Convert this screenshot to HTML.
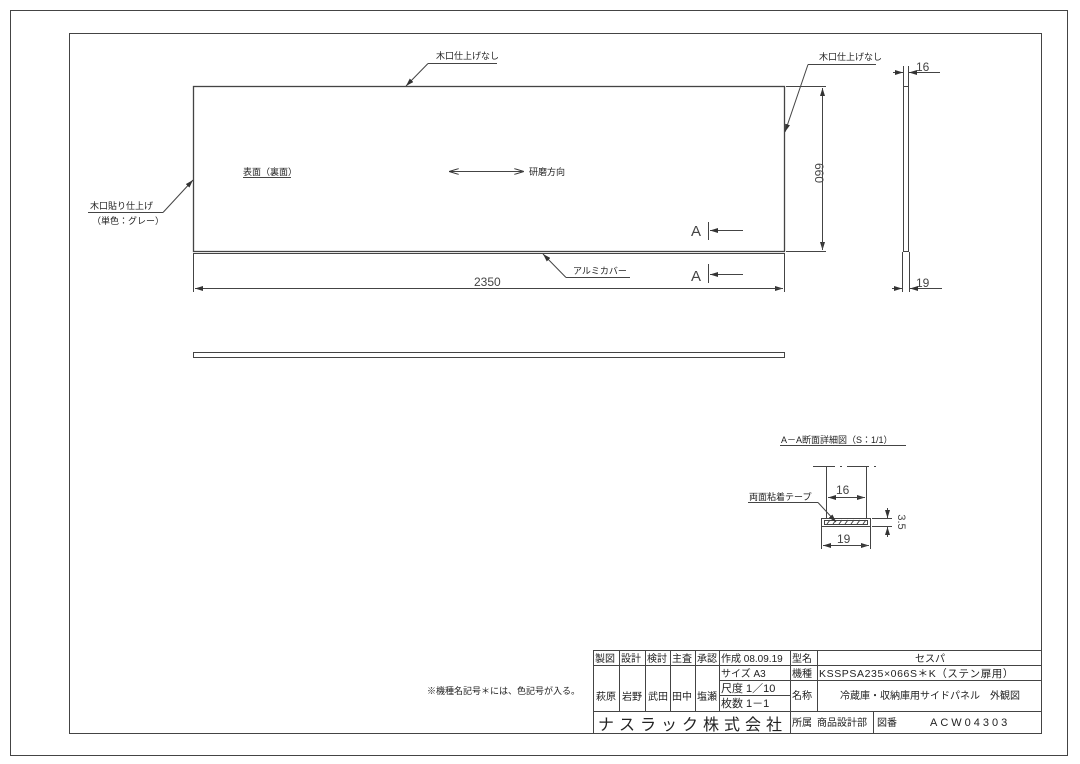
<!DOCTYPE html>
<html><head><meta charset="utf-8"><style>
html,body{margin:0;padding:0;background:#fff;}
svg{display:block;font-family:"Liberation Sans","Noto Sans CJK JP",sans-serif;}
</style></head><body>
<svg width="1080" height="764" viewBox="0 0 1080 764" xmlns="http://www.w3.org/2000/svg">
<defs>
<marker id="ar" markerWidth="10" markerHeight="6" refX="10" refY="3" orient="auto" markerUnits="userSpaceOnUse">
<path d="M0,0 L10,3 L0,6" fill="none" stroke="#333" stroke-width="1"/></marker>
<marker id="af" markerWidth="8" markerHeight="5" refX="8" refY="2.5" orient="auto" markerUnits="userSpaceOnUse">
<path d="M0,0 L8,2.5 L0,5 z" fill="#333"/></marker>
</defs>
<g fill="none" stroke="#444" stroke-width="1">
<rect x="10.5" y="10.5" width="1057" height="745"/>
<rect x="69.5" y="33.5" width="972" height="700"/>
<rect x="193.5" y="86.5" width="591" height="165" stroke-width="1.3"/>
<line x1="193" y1="253.5" x2="785" y2="253.5"/>
<line x1="193.5" y1="254" x2="193.5" y2="292"/>
<line x1="784.5" y1="254" x2="784.5" y2="292"/>
<line x1="195" y1="288.5" x2="783" y2="288.5" marker-end="url(#af)"/>
<line x1="783" y1="288.5" x2="195" y2="288.5" marker-end="url(#af)"/>
<polyline points="428,63.5 497,63.5"/>
<line x1="428" y1="63.5" x2="406" y2="86" marker-end="url(#af)"/>
<line x1="808" y1="64.5" x2="876" y2="64.5"/>
<line x1="808" y1="64.5" x2="785" y2="132" marker-end="url(#af)"/>
<line x1="88" y1="212.5" x2="163" y2="212.5"/>
<line x1="163" y1="212.5" x2="193" y2="180" marker-end="url(#af)"/>
<line x1="243" y1="177.5" x2="291" y2="177.5"/>
<line x1="449" y1="171.5" x2="524" y2="171.5" marker-end="url(#ar)"/>
<line x1="524" y1="171.5" x2="449" y2="171.5" marker-end="url(#ar)"/>
<line x1="786" y1="86.5" x2="826" y2="86.5"/>
<line x1="786" y1="251.5" x2="826" y2="251.5"/>
<line x1="822.5" y1="88" x2="822.5" y2="250" marker-end="url(#af)"/>
<line x1="822.5" y1="250" x2="822.5" y2="88" marker-end="url(#af)"/>
<line x1="708.5" y1="222" x2="708.5" y2="240"/>
<line x1="743" y1="230.5" x2="710" y2="230.5" marker-end="url(#af)"/>
<line x1="708.5" y1="264" x2="708.5" y2="283"/>
<line x1="743" y1="274.5" x2="710" y2="274.5" marker-end="url(#af)"/>
<line x1="566" y1="277.5" x2="630" y2="277.5"/>
<line x1="566" y1="277.5" x2="543" y2="254" marker-end="url(#af)"/>
<rect x="903.5" y="86.5" width="5" height="165"/>
<line x1="903.5" y1="66" x2="903.5" y2="86"/>
<line x1="908.5" y1="66" x2="908.5" y2="86"/>
<line x1="893" y1="72.5" x2="903" y2="72.5" marker-end="url(#af)"/>
<line x1="940" y1="72.5" x2="909" y2="72.5" marker-end="url(#af)"/>
<line x1="902.5" y1="252" x2="902.5" y2="292"/>
<line x1="909.5" y1="252" x2="909.5" y2="292"/>
<line x1="892" y1="288.5" x2="902" y2="288.5" marker-end="url(#af)"/>
<line x1="942" y1="288.5" x2="910" y2="288.5" marker-end="url(#af)"/>
<rect x="193.5" y="352.5" width="591" height="5"/>
<line x1="780" y1="445.5" x2="906" y2="445.5"/>
<line x1="813" y1="466.5" x2="880" y2="466.5" stroke-dasharray="22,5,2,5"/>
<line x1="826.5" y1="466" x2="826.5" y2="518"/>
<line x1="866.5" y1="466" x2="866.5" y2="518"/>
<line x1="828" y1="497.5" x2="865" y2="497.5" marker-end="url(#af)"/>
<line x1="865" y1="497.5" x2="828" y2="497.5" marker-end="url(#af)"/>
<rect x="821.5" y="518.5" width="49" height="8"/>
<rect x="824.5" y="520.5" width="43" height="4"/>
<path d="M827,524 l3,-4 M833,524 l3,-4 M839,524 l3,-4 M845,524 l3,-4 M851,524 l3,-4 M857,524 l3,-4 M863,524 l3,-4"/>
<line x1="821.5" y1="527" x2="821.5" y2="549"/>
<line x1="870.5" y1="527" x2="870.5" y2="549"/>
<line x1="823" y1="545.5" x2="869" y2="545.5" marker-end="url(#af)"/>
<line x1="869" y1="545.5" x2="823" y2="545.5" marker-end="url(#af)"/>
<line x1="872" y1="518.5" x2="892" y2="518.5"/>
<line x1="872" y1="526.5" x2="892" y2="526.5"/>
<line x1="887.5" y1="508" x2="887.5" y2="518" marker-end="url(#af)"/>
<line x1="887.5" y1="537" x2="887.5" y2="527" marker-end="url(#af)"/>
<line x1="748" y1="502.5" x2="818" y2="502.5"/>
<line x1="818" y1="502.5" x2="836" y2="522" marker-end="url(#af)"/>
<rect x="593.5" y="650.5" width="448" height="83"/>
<line x1="593" y1="665.5" x2="1042" y2="665.5"/>
<line x1="719" y1="680.5" x2="1042" y2="680.5"/>
<line x1="719" y1="695.5" x2="790" y2="695.5"/>
<line x1="593" y1="711.5" x2="1042" y2="711.5"/>
<line x1="619.5" y1="650" x2="619.5" y2="711"/>
<line x1="645.5" y1="650" x2="645.5" y2="711"/>
<line x1="670.5" y1="650" x2="670.5" y2="711"/>
<line x1="695.5" y1="650" x2="695.5" y2="711"/>
<line x1="719.5" y1="650" x2="719.5" y2="711"/>
<line x1="790.5" y1="650" x2="790.5" y2="734"/>
<line x1="817.5" y1="650" x2="817.5" y2="711"/>
<line x1="873.5" y1="711" x2="873.5" y2="734"/>
</g>
<g fill="#222" font-size="9">
<text x="436" y="59">木口仕上げなし</text>
<text x="819" y="60">木口仕上げなし</text>
<text x="90" y="209">木口貼り仕上げ</text>
<text x="92" y="224">（単色：グレー）</text>
<text x="243" y="175">表面（裏面）</text>
<text x="529" y="175">研磨方向</text>
<text x="573" y="274">アルミカバー</text>
<text x="474" y="286" font-size="12" fill="#444">2350</text>
<text x="820" y="168" font-size="12" fill="#444" transform="rotate(90 815 168)" text-anchor="middle">660</text>
<text x="691" y="236" font-size="15" fill="#444">A</text>
<text x="691" y="281" font-size="15" fill="#444">A</text>
<text x="916" y="71" font-size="12" fill="#444">16</text>
<text x="916" y="287" font-size="12" fill="#444">19</text>
<text x="781" y="443">A－A断面詳細図（S：1/1）</text>
<text x="836" y="494" font-size="12" fill="#444">16</text>
<text x="837" y="543" font-size="12" fill="#444">19</text>
<text x="898" y="522" font-size="11" fill="#444" transform="rotate(90 898 522)" text-anchor="middle">3.5</text>
<text x="749" y="500">両面粘着テープ</text>
<text x="427" y="694">※機種名記号＊には、色記号が入る。</text>
<g font-size="10">
<text x="595" y="662">製図</text><text x="621" y="662">設計</text><text x="647" y="662">検討</text>
<text x="672" y="662">主査</text><text x="697" y="662">承認</text>
<text x="721" y="662">作成 08.09.19</text><text x="792" y="662">型名</text>
<text x="930" y="662" text-anchor="middle">セスパ</text>
<text x="721" y="677">サイズ  A3</text><text x="792" y="677">機種</text>
<text x="819" y="677" font-size="10.5" letter-spacing="0.6">KSSPSA235×066S＊K（ステン扉用）</text>
<text x="721" y="692" font-size="11">尺度 1／10</text>
<text x="721" y="707" font-size="11">枚数  1－1</text>
<text x="792" y="699">名称</text>
<text x="930" y="699" text-anchor="middle">冷蔵庫・収納庫用サイドパネル　外観図</text>
<text x="596" y="700">萩原</text><text x="622" y="700">岩野</text><text x="648" y="700">武田</text>
<text x="672" y="700">田中</text><text x="697" y="700">塩瀬</text>
<text x="598" y="730" font-size="16" textLength="184" lengthAdjust="spacing">ナスラック株式会社</text>
<text x="792" y="726">所属</text><text x="817" y="726">商品設計部</text><text x="877" y="726">図番</text>
<text x="930" y="726" font-size="11" letter-spacing="3">ACW04303</text>
</g>
</g>
</svg>
</body></html>
